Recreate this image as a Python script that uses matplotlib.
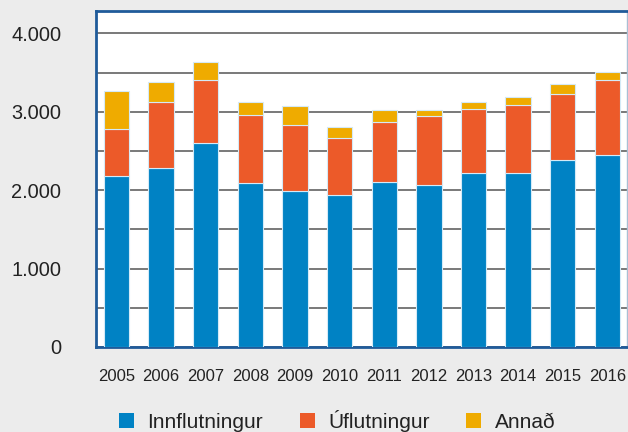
import matplotlib
matplotlib.use("Agg")
import matplotlib.pyplot as plt
from matplotlib.ticker import MultipleLocator, FuncFormatter
from matplotlib.patches import Patch
import numpy as np

years = ["2005", "2006", "2007", "2008", "2009", "2010", "2011", "2012", "2013", "2014", "2015", "2016"]
innflutningur = [2185, 2280, 2600, 2090, 1990, 1935, 2100, 2060, 2215, 2215, 2390, 2450]
uflutningur   = [600, 850, 800, 870, 835, 725, 775, 890, 820, 875, 840, 960]
annad         = [485, 250, 235, 170, 250, 150, 145, 70, 95, 95, 125, 100]
labels = ["Innflutningur", "Úflutningur", "Annað"]
colors = ["#0082c4", "#ec5a29", "#efab00"]

plt.rcParams['font.family'] = ['Liberation Sans', 'DejaVu Sans']

fig = plt.figure(figsize=(6.28, 4.32), dpi=100, facecolor="#ececec")
ax = fig.add_axes([96/628, (432-347)/432, (627-96)/628, (347-10.7)/432])
ax.set_facecolor("white")

x = np.arange(len(years))
bottom = np.zeros(len(years))
for vals, col, lab in zip([innflutningur, uflutningur, annad], colors, labels):
    ax.bar(x, vals, width=0.57, bottom=bottom, color=col, edgecolor="#d4eaf7",
           linewidth=0.8, zorder=3, label=lab)
    bottom += np.array(vals)

ax.set_xlim(-0.46, 11.44)
ax.set_ylim(0, 4288)
ax.yaxis.set_major_locator(MultipleLocator(1000))
ax.yaxis.set_minor_locator(MultipleLocator(500))
ax.yaxis.set_major_formatter(FuncFormatter(lambda v, p: f"{int(v):,}".replace(",", ".")))
ax.grid(axis="y", which="both", color="#6e6e6e", linewidth=1.3, zorder=1)
ax.set_axisbelow(True)

ax.set_xticks(x)
ax.set_xticklabels(years)
ax.tick_params(axis="x", length=0, pad=16, labelsize=12, labelcolor="#222222")
ax.tick_params(axis="y", which="both", length=0, pad=25, labelsize=14.4, labelcolor="#222222")

for side in ["left", "bottom", "top"]:
    ax.spines[side].set_color("#1f5b9a")
    ax.spines[side].set_linewidth(2)
ax.spines["right"].set_color("#a9bfd4")
ax.spines["right"].set_linewidth(1)

handles = [Patch(facecolor=c, edgecolor="none") for c in colors]
fig.legend(handles, labels, ncol=3, loc="center left",
           bbox_to_anchor=(119/628, 1 - 421/432), frameon=False,
           fontsize=15, handlelength=0.72, handleheight=0.72,
           handletextpad=0.65, columnspacing=1.75, labelcolor="#222222",
           borderpad=0, borderaxespad=0)

fig.savefig("out.png", dpi=100, facecolor=fig.get_facecolor())
